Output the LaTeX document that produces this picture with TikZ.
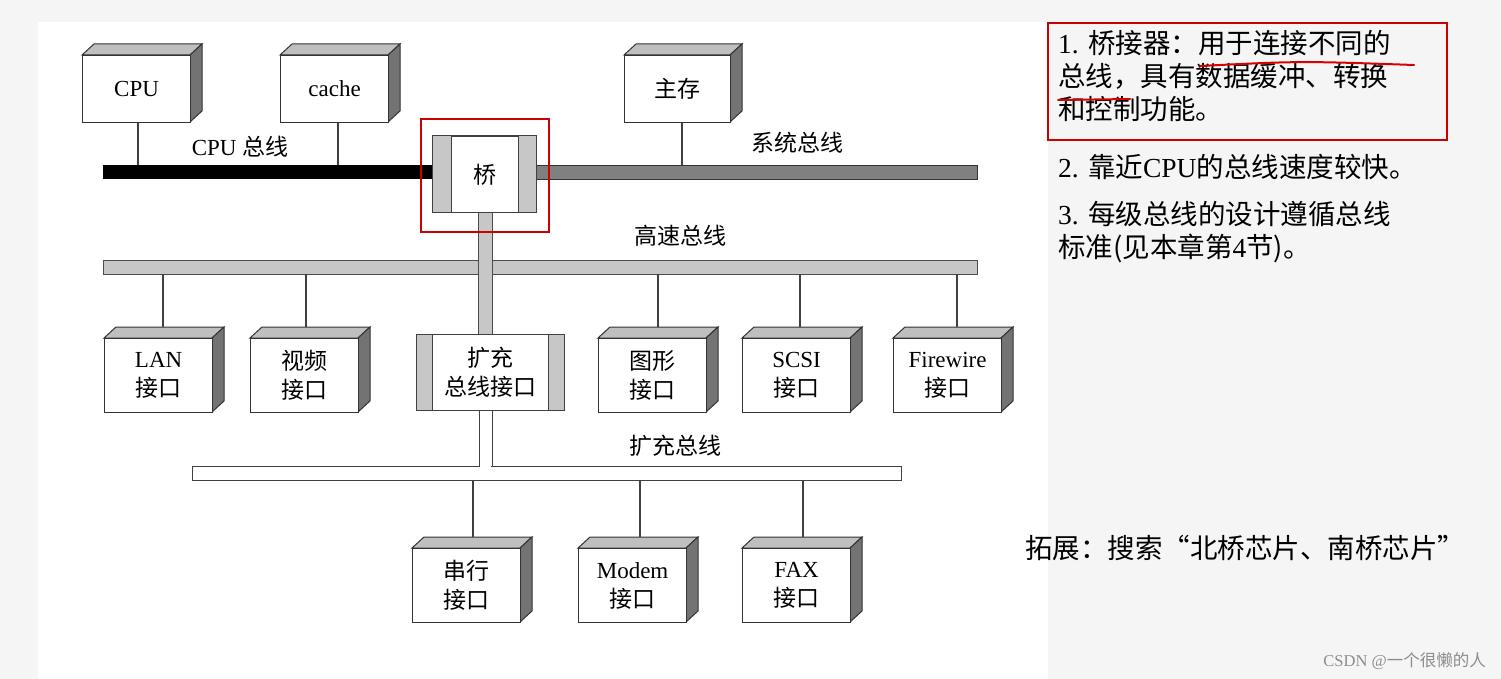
\documentclass[tikz,border=0pt]{standalone}
\usepackage{fontspec}
\setmainfont{Liberation Serif}
\newfontfamily\cjk{Noto Sans CJK SC}
\begin{document}
\begin{tikzpicture}[x=1pt,y=-1pt,
  lbl/.style={font=\fontsize{23}{29}\selectfont,align=center,inner sep=0pt},
  txt/.style={font=\fontsize{27.5}{33}\selectfont,anchor=north west,align=left,inner sep=0pt},
  conn/.style={line width=1.2pt,draw=black!75}]
\fill[black!4] (0,0) rectangle (1501,679);
\useasboundingbox (0,0) rectangle (1501,679);
\fill[white] (38,22) rectangle (1048,679);
\newcommand{\tdbox}[6]{%
  \fill[black!25,draw=black!80,line width=1pt] (#2,#3)--(#2+12,#3-11)--(#4+12,#3-11)--(#4,#3)--cycle;
  \fill[black!55,draw=black!80,line width=1pt] (#4,#3)--(#4+12,#3-11)--(#4+12,#5-11)--(#4,#5)--cycle;
  \node[draw=black!80,line width=1.2pt,fill=white,minimum width=#4-#2,minimum height=#5-#3,inner sep=0pt,anchor=north west,lbl] (#1) at (#2,#3) {#6};}
% buses
\fill[black] (103,165) rectangle (432,179);
\fill[black!50,draw=black!80] (536,165) rectangle (977,179);
\fill[black!22,draw=black!70] (103,260) rectangle (977,274);
\fill[black!22,draw=black!70] (478,212) rectangle (492,336);
\draw[black!75,line width=1pt,fill=white] (192,466) rectangle (901,480);
\fill[white] (480,440) rectangle (491,467);
\draw[black!75,line width=1pt] (479,410)--(479,466) (492,410)--(492,466);
% top boxes
\tdbox{cpu}{82}{55}{190}{122}{CPU}
\tdbox{cache}{280}{55}{388}{122}{cache}
\tdbox{mem}{624}{55}{730}{122}{\cjk 主存}
\coordinate (cpub) at (138,165); \coordinate (cacheb) at (338,165); \coordinate (memb) at (682,165);
\draw[conn] (cpu.south -| cpub) -- (cpub);
\draw[conn] (cache.south -| cacheb) -- (cacheb);
\draw[conn] (mem.south -| memb) -- (memb);
% bridge
\fill[black!22,draw=black!75,line width=1pt] (432,136) rectangle (536,212);
\node[draw=black!75,line width=1pt,fill=white,minimum width=67,minimum height=76,inner sep=0pt,anchor=north west,lbl] (br) at (451,136) {\cjk 桥};
\node[draw=red!80!black,line width=2pt,minimum width=128,minimum height=113,anchor=north west] (redb) at (420,118) {};
% labels
\node[lbl] (l1) at (240,147) {CPU {\cjk 总线}};
\node[lbl] (l2) at (797,143) {\cjk 系统总线};
\node[lbl] (l3) at (680,236) {\cjk 高速总线};
\node[lbl] (l4) at (675,446) {\cjk 扩充总线};
% middle row
\tdbox{lan}{104}{338}{212}{412}{LAN\\\cjk 接口}
\tdbox{vid}{250}{338}{358}{412}{\cjk 视频\\\cjk 接口}
\tdbox{gfx}{598}{338}{706}{412}{\cjk 图形\\\cjk 接口}
\tdbox{scsi}{742}{338}{850}{412}{SCSI\\\cjk 接口}
\tdbox{fw}{893}{338}{1001}{412}{Firewire\\\cjk 接口}
\fill[black!22,draw=black!75,line width=1pt] (416,334) rectangle (564,410);
\node[draw=black!75,line width=1pt,fill=white,minimum width=116,minimum height=76,inner sep=0pt,anchor=north west,lbl] (ext) at (432,334) {\cjk 扩充\\\cjk 总线接口};
\foreach \n/\x in {lan/163,vid/306,gfx/658,scsi/800,fw/957}{
  \coordinate (t\n) at (\x,274);
  \draw[conn] (t\n) -- (\x,327);}
% bottom row
\tdbox{ser}{412}{548}{520}{622}{\cjk 串行\\\cjk 接口}
\tdbox{mod}{578}{548}{686}{622}{Modem\\\cjk 接口}
\tdbox{fax}{742}{548}{850}{622}{FAX\\\cjk 接口}
\foreach \n/\x in {ser/473,mod/640,fax/803}{
  \coordinate (b\n) at (\x,480);
  \draw[conn] (b\n) -- (\x,537);}
% right text
\node[txt] (t1) at (1058,30) {1. {\cjk 桥接器：用于连接不同的}\\{\cjk 总线，具有数据缓冲、转换}\\{\cjk 和控制功能。}};
\draw[red!80!black,line width=2pt] (1048,23) rectangle (1447,140);
\draw[red!85!black,line width=2pt,line cap=round] (1200,66) .. controls (1300,61) .. (1414,65);
\draw[red!85!black,line width=2pt,line cap=round] (1058,100) -- (1130,99);
\node[txt] (t2) at (1058,154) {2. {\cjk 靠近}CPU{\cjk 的总线速度较快。}};
\node[txt] (t3) at (1058,201) {3. {\cjk 每级总线的设计遵循总线}\\{\cjk 标准(见本章第}4{\cjk 节)。}};
\node[txt] (t4) at (1025,535) {\cjk 拓展：搜索“北桥芯片、南桥芯片”};
\node[font=\fontsize{16.5}{18}\selectfont,text=black!45,anchor=east,inner sep=0pt] (wm) at (1486,661) {CSDN @{\cjk 一个很懒的人}};
\end{tikzpicture}
\end{document}
